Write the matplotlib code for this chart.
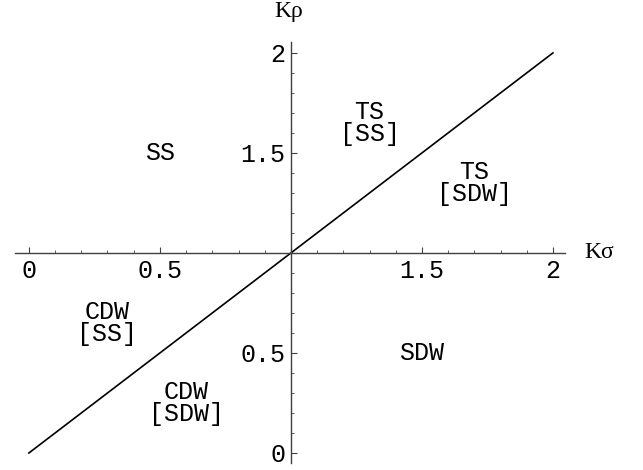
import matplotlib.pyplot as plt
from matplotlib.ticker import FixedLocator, FixedFormatter, MultipleLocator

# phase boundary K_rho = K_sigma
boundary_x = [0, 2]
boundary_y = [0, 2]

# region labels and where they sit in the (K_sigma, K_rho) plane
region_names = ['SS', 'TS\n[SS]', 'TS\n[SDW]', 'CDW\n[SS]', 'CDW\n[SDW]', 'SDW']
region_x = [0.5, 1.3, 1.7, 0.3, 0.6, 1.5]
region_y = [1.5, 1.65, 1.35, 0.65, 0.25, 0.5]

major_ticks = [0, 0.5, 1, 1.5, 2]
tick_labels = ['0', '0.5', '', '1.5', '2']

mono = ['Liberation Mono', 'DejaVu Sans Mono']
serif = ['Liberation Serif', 'DejaVu Serif']

fig = plt.figure(figsize=(6.43, 4.70), dpi=100)
ax = fig.add_axes([15 / 643, 7 / 470, 550 / 643, 421.3 / 470])

ax.plot(boundary_x, boundary_y, color='black', lw=1.2)

ax.set_xlim(-0.053, 2.046)
ax.set_ylim(-0.05, 2.056)

ax.spines['top'].set_visible(False)
ax.spines['right'].set_visible(False)
ax.spines['left'].set_position(('data', 1))
ax.spines['bottom'].set_position(('data', 1))
for s in ('left', 'bottom'):
    ax.spines[s].set_color('#404040')
    ax.spines[s].set_linewidth(1.0)

for axis in (ax.xaxis, ax.yaxis):
    axis.set_major_locator(FixedLocator(major_ticks))
    axis.set_major_formatter(FixedFormatter(tick_labels))
    axis.set_minor_locator(MultipleLocator(0.1))

ax.tick_params(which='major', direction='in', length=4, width=0.8,
               color='#404040', labelsize=18, pad=4)
ax.tick_params(which='minor', direction='in', length=2.5, width=0.6,
               color='#404040')
for lab in ax.get_xticklabels() + ax.get_yticklabels():
    lab.set_family(mono)

for name, x, y in zip(region_names, region_x, region_y):
    ax.text(x, y, name, ha='center', va='center', fontsize=18,
            family=mono, linespacing=0.9)

ax.text(0.99, 2.206, 'K\u03c1', ha='center', va='center', fontsize=17,
        family=serif, clip_on=False)
ax.text(2.175, 1.0, 'K\u03c3', ha='center', va='center', fontsize=17,
        family=serif, clip_on=False)

fig.savefig('out.png', dpi=100)
